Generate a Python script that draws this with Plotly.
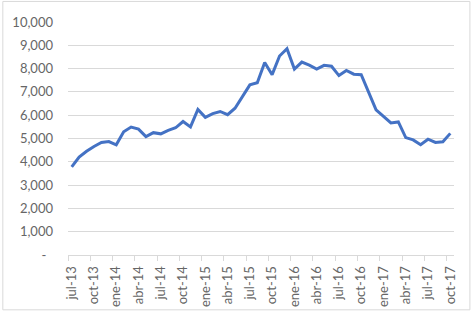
import plotly.graph_objects as go

months = ["jul-13","ago-13","sep-13","oct-13","nov-13","dic-13",
          "ene-14","feb-14","mar-14","abr-14","may-14","jun-14",
          "jul-14","ago-14","sep-14","oct-14","nov-14","dic-14",
          "ene-15","feb-15","mar-15","abr-15","may-15","jun-15",
          "jul-15","ago-15","sep-15","oct-15","nov-15","dic-15",
          "ene-16","feb-16","mar-16","abr-16","may-16","jun-16",
          "jul-16","ago-16","sep-16","oct-16","nov-16","dic-16",
          "ene-17","feb-17","mar-17","abr-17","may-17","jun-17",
          "jul-17","ago-17","sep-17","oct-17"]

values = [3780, 4200, 4450, 4660, 4830, 4870,
          4730, 5290, 5490, 5400, 5080, 5250,
          5200, 5350, 5460, 5730, 5500, 6250,
          5910, 6070, 6160, 6020, 6300, 6790,
          7300, 7390, 8260, 7740, 8540, 8850,
          7980, 8280, 8150, 7980, 8140, 8100,
          7700, 7920, 7760, 7740, 6960, 6230,
          5950, 5670, 5710, 5040, 4940, 4730,
          4970, 4830, 4860, 5220]

y_tickvals = [0, 1000, 2000, 3000, 4000, 5000, 6000, 7000, 8000, 9000, 10000]
y_ticktext = ["-\u00a0\u00a0", "1,000", "2,000", "3,000", "4,000", "5,000",
              "6,000", "7,000", "8,000", "9,000", "10,000"]

idx = list(range(len(months)))
x_tickvals = idx[::3]
x_ticktext = [months[i] for i in x_tickvals]
x_minor = [i - 0.5 for i in x_tickvals]

fig = go.Figure()
fig.add_trace(go.Scatter(
    x=idx, y=values, mode="lines",
    line=dict(color="#4472C4", width=3),
    hoverinfo="skip",
))

font = dict(family="Lato, Carlito, Calibri, sans-serif", size=13, color="#666666")

fig.update_layout(
    width=473, height=319,
    margin=dict(l=66, r=19, t=22, b=59),
    paper_bgcolor="white", plot_bgcolor="white",
    showlegend=False,
    font=font,
    shapes=[dict(type="rect", xref="paper", yref="paper",
                 x0=-65.5/388, x1=(470-66)/388,
                 y0=-(316-260)/238, y1=(260-1)/238,
                 line=dict(color="#d9d9d9", width=1), layer="below")],
)

fig.update_xaxes(
    range=[-0.5, 51.5],
    tickmode="array", tickvals=x_tickvals, ticktext=x_ticktext,
    tickangle=-90, ticks="", showgrid=False, zeroline=False,
    showline=True, linecolor="#d9d9d9", linewidth=1,
    tickfont=font, ticklabelstandoff=5,
    minor=dict(tickvals=x_minor, ticks="outside", ticklen=5,
               tickcolor="#d9d9d9", tickwidth=1, showgrid=False),
)

fig.update_yaxes(
    range=[0, 10000],
    tickmode="array", tickvals=y_tickvals, ticktext=y_ticktext,
    showgrid=True, gridcolor="#d9d9d9", gridwidth=1,
    zeroline=False, showline=False, ticks="",
    ticklabelstandoff=14,
    tickfont=font,
)

fig.write_html("out.html")
